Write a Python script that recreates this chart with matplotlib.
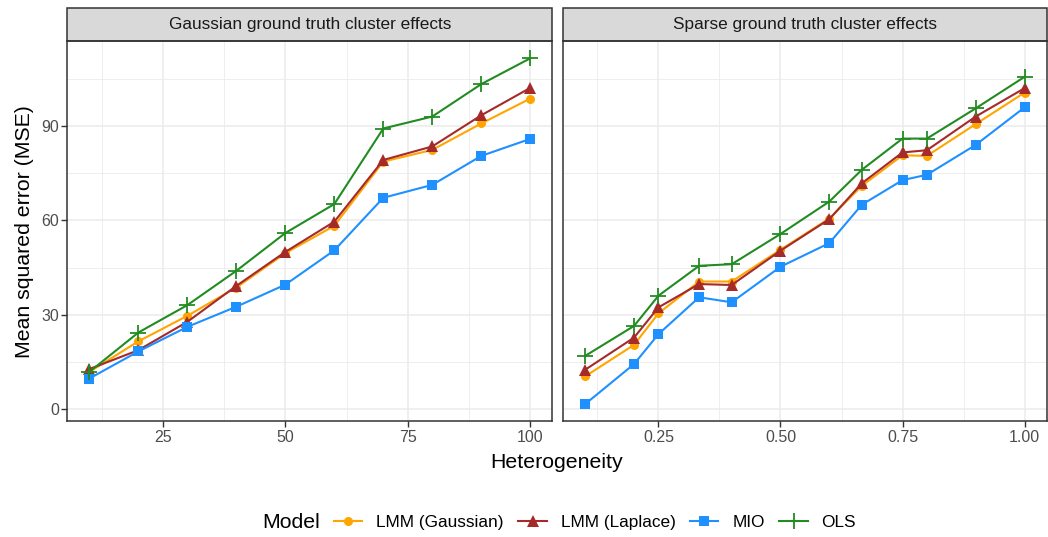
import matplotlib
matplotlib.use("Agg")
import numpy as np
from matplotlib import pyplot as plt
from matplotlib.patches import Rectangle

# data
het_gauss = [10, 20, 30, 40, 50, 60, 70, 80, 90, 100]
het_sparse = [0.1, 0.2, 0.25, 1/3, 0.4, 0.5, 0.6, 2/3, 0.75, 0.8, 0.9, 1.0]

gauss_lmm_gauss = [11.9, 21.6, 29.7, 38.7, 49.6, 58.3, 78.7, 82.4, 90.8, 98.7]
gauss_lmm_laplace = [12.8, 18.8, 27.8, 39.2, 50.0, 59.6, 79.2, 83.5, 93.4, 102.1]
gauss_mio = [9.8, 18.4, 26.2, 32.6, 39.6, 50.5, 67.2, 71.3, 80.5, 85.9]
gauss_ols = [11.9, 24.4, 33.1, 44.0, 56.0, 65.2, 89.2, 93.0, 103.3, 111.5]

sparse_lmm_gauss = [10.5, 20.5, 30.5, 40.6, 40.6, 50.7, 60.6, 71.0, 80.7, 80.5, 90.6, 100.6]
sparse_lmm_laplace = [12.6, 22.8, 32.4, 39.8, 39.5, 50.4, 60.4, 71.8, 81.6, 82.3, 93.0, 102.0]
sparse_mio = [1.7, 14.4, 23.9, 35.6, 34.0, 45.3, 52.8, 65.0, 72.8, 74.5, 84.0, 95.9]
sparse_ols = [17.0, 26.5, 36.1, 45.6, 46.1, 55.7, 66.0, 76.1, 86.0, 86.0, 95.6, 105.6]

models = ["LMM (Gaussian)", "LMM (Laplace)", "MIO", "OLS"]
colors = ["#FFA500", "#A52A2A", "#1E90FF", "#228B22"]
markers = ["o", "^", "s", "+"]
msizes = [6.5, 8, 6.5, 12]

panels = [
    ("Gaussian ground truth cluster effects", het_gauss,
     [gauss_lmm_gauss, gauss_lmm_laplace, gauss_mio, gauss_ols]),
    ("Sparse ground truth cluster effects", het_sparse,
     [sparse_lmm_gauss, sparse_lmm_laplace, sparse_mio, sparse_ols]),
]

W, H = 1048, 537
fig = plt.figure(figsize=(W / 100, H / 100), dpi=100)
plt.rcParams['font.family'] = ['Liberation Sans', 'DejaVu Sans']

boxes = [(67.3, 552.3), (563.3, 1046.5)]
top, bottom = 41, 421.3
strip_h = 33

handles = []
for i, (title, xs, series) in enumerate(panels):
    x0, x1 = boxes[i]
    ax = fig.add_axes([x0 / W, (H - bottom) / H, (x1 - x0) / W, (bottom - top) / H])
    ax.set_facecolor("white")
    for s, c, m, ms in zip(series, colors, markers, msizes):
        h, = ax.plot(xs, s, color=c, marker=m, markersize=ms, lw=1.5,
                     markeredgewidth=1.3 if m == "+" else 0, zorder=3)
        if i == 0:
            handles.append(h)
    lo, hi = min(xs), max(xs)
    pad = (hi - lo) * 0.05
    ax.set_xlim(lo - pad, hi + pad)
    ax.set_ylim(-3.79, 116.99)
    ax.set_yticks([0, 30, 60, 90])
    ax.set_yticks([15, 45, 75, 105], minor=True)
    if i == 0:
        ax.set_xticks([25, 50, 75, 100])
        ax.set_xticks([12.5, 37.5, 62.5, 87.5], minor=True)
        ax.set_ylabel("Mean squared error (MSE)", fontsize=15.3, color="black", labelpad=5)
    else:
        ax.set_xticks([0.25, 0.5, 0.75, 1.0])
        ax.set_xticklabels(["0.25", "0.50", "0.75", "1.00"])
        ax.set_xticks([0.125, 0.375, 0.625, 0.875], minor=True)
        ax.set_yticklabels([])
    ax.grid(True, which="major", color="#EBEBEB", lw=1.1, zorder=0)
    ax.grid(True, which="minor", color="#EBEBEB", lw=0.6, zorder=0)
    ax.set_axisbelow(True)
    ax.tick_params(which="major", length=4, width=1, color="#333333",
                   labelcolor="#4D4D4D", labelsize=11.5, pad=2)
    ax.tick_params(which="minor", length=0)
    if i == 1:
        ax.tick_params(axis="y", which="major", length=0)
    for sp in ax.spines.values():
        sp.set_color("#333333")
        sp.set_linewidth(1.1)
    # facet strip
    sh = strip_h / (bottom - top)
    ax.add_patch(Rectangle((0, 1), 1, sh, transform=ax.transAxes, clip_on=False,
                           facecolor="#D9D9D9", edgecolor="#333333", lw=1.1))
    ax.text(0.5, 1 + sh / 2, title, transform=ax.transAxes, ha="center", va="center",
            fontsize=12.4, color="#1A1A1A")

fig.text((67.3 + 1046.5) / 2 / W, (H - 462) / H, "Heterogeneity", ha="center", va="center",
         fontsize=15.3)

fig.text(262 / W, (H - 522) / H, "Model", ha="left", va="center", fontsize=15.3)
fig.legend(handles, models, loc="center left", bbox_to_anchor=(334 / W, (H - 522) / H),
           ncol=4, frameon=False, fontsize=12.4, handlelength=1.65, handletextpad=0.8,
           columnspacing=0.85, borderaxespad=0, borderpad=0)

fig.savefig("out.png", dpi=100)
